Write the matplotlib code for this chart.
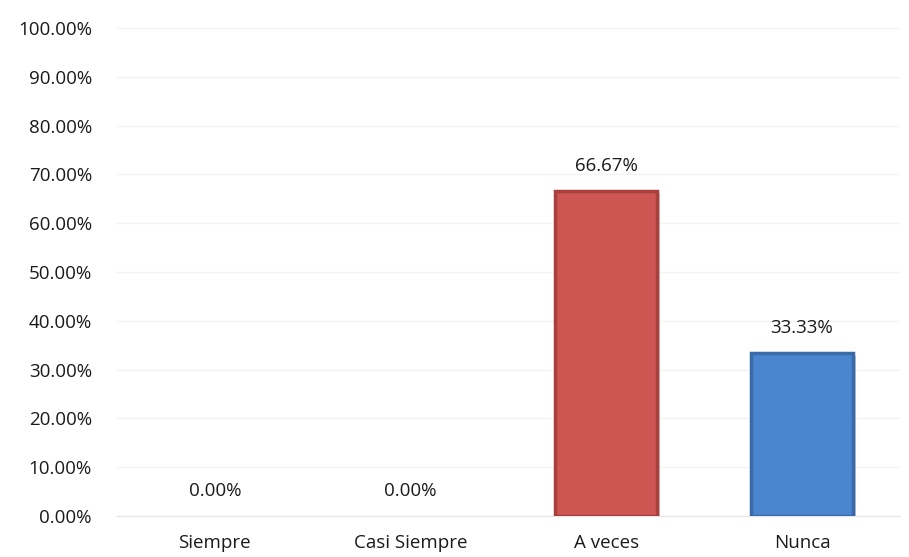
import matplotlib.pyplot as plt
import matplotlib.patheffects as pe
from matplotlib.ticker import FuncFormatter

# datos
categorias = ["Siempre", "Casi Siempre", "A veces", "Nunca"]
valores    = [0.0, 0.0, 66.67, 33.33]
colores    = ["#4A7EBB", "#4A7EBB", "#CD5652", "#4A86CF"]
bordes     = ["#3A6499", "#3A6499", "#A9403D", "#3A6AA8"]
y_ticks    = [0, 10, 20, 30, 40, 50, 60, 70, 80, 90, 100]

plt.rcParams["font.family"] = ["Open Sans", "DejaVu Sans"]
FS = 13.5

fig = plt.figure(figsize=(9.09, 5.57), dpi=100)
ax = fig.add_axes([0.1287, 0.0736, 0.8613, 0.8761])

x = range(len(categorias))
bars = ax.bar(x, valores, width=0.52, color=colores, edgecolor=bordes,
              linewidth=2.5, zorder=3)
for b, v in zip(bars, valores):
    if v == 0:
        b.set_visible(False)
    else:
        b.set_path_effects([pe.SimplePatchShadow(offset=(2, -2), alpha=0.25), pe.Normal()])

for xi, v in zip(x, valores):
    ax.annotate(f"{v:.2f}%", xy=(xi, v), xytext=(0, 18), textcoords="offset points",
                ha="center", va="center", fontsize=FS, color="#1a1a1a")

ax.set_xlim(-0.5, len(categorias) - 0.5)
ax.set_ylim(0, 100)
ax.set_yticks(y_ticks)
ax.yaxis.set_major_formatter(FuncFormatter(lambda v, p: f"{v:.2f}%"))
ax.set_xticks(list(x))
ax.set_xticklabels(categorias)

ax.grid(True, axis="y", color="#f3f3f3", lw=1, zorder=0)
for s in ["top", "right", "left"]:
    ax.spines[s].set_visible(False)
ax.spines["bottom"].set_color("#e6e6e6")
ax.tick_params(axis="both", length=0, labelsize=FS, colors="#1a1a1a")
ax.tick_params(axis="y", pad=18)
ax.tick_params(axis="x", pad=13)

fig.savefig("out.png", dpi=100)
